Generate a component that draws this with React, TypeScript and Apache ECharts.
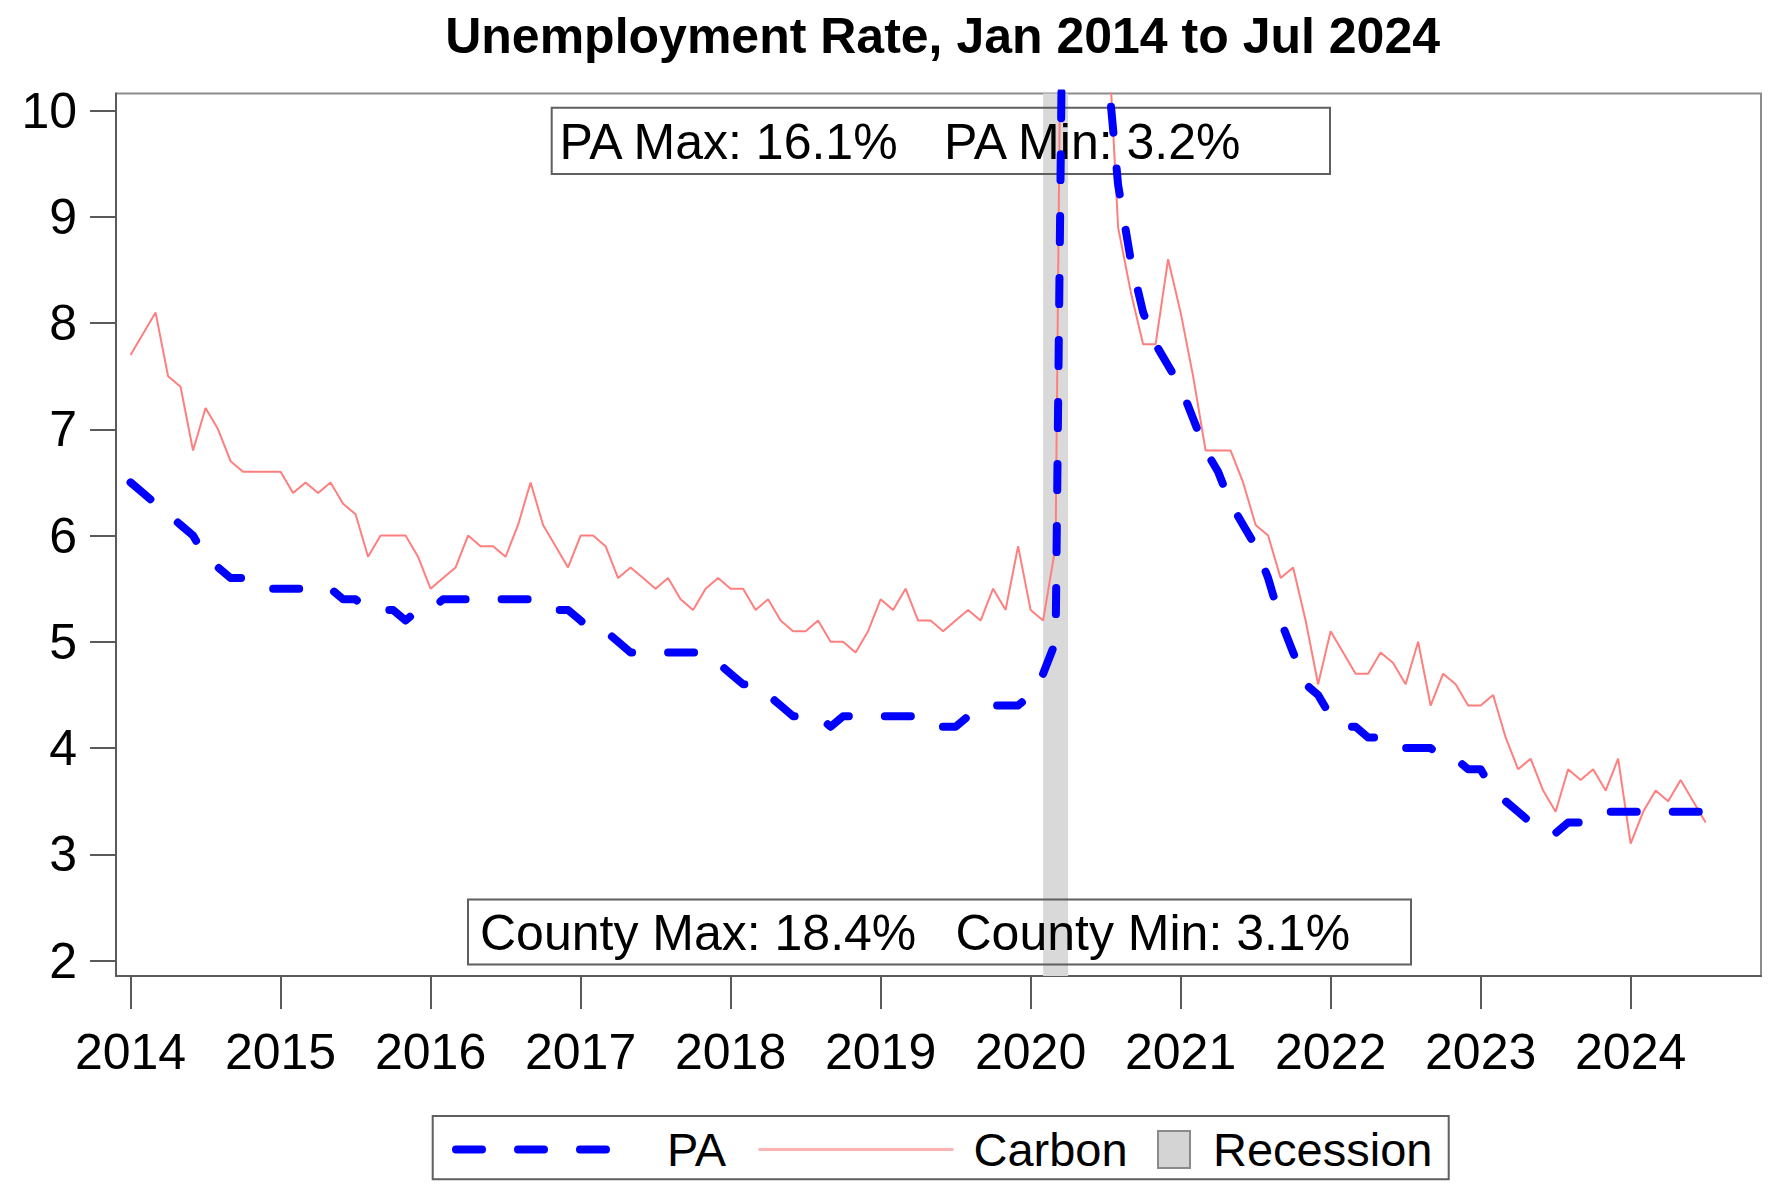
import React, { useEffect, useRef } from "react";
import * as echarts from "echarts";

// ---- data (monthly, Jan 2014 – Jul 2024) ----
const startYear = 2014;
const paRate = [
  6.5, 6.4, 6.3, 6.2, 6.1, 6.0, 5.8, 5.7, 5.6, 5.6, 5.5, 5.5,
  5.5, 5.5, 5.5, 5.5, 5.5, 5.4, 5.4, 5.3, 5.3, 5.3, 5.2, 5.3,
  5.3, 5.4, 5.4, 5.4, 5.4, 5.4, 5.4, 5.4, 5.4, 5.3, 5.3, 5.3,
  5.2, 5.1, 5.1, 5.0, 4.9, 4.9, 4.9, 4.9, 4.9, 4.9, 4.9, 4.8,
  4.7, 4.6, 4.6, 4.5, 4.4, 4.3, 4.3, 4.3, 4.2, 4.3, 4.3, 4.3,
  4.3, 4.3, 4.3, 4.3, 4.2, 4.2, 4.2, 4.3, 4.4, 4.4, 4.4, 4.4,
  4.5, 4.7, 5.0, 16.1, 13.6, 12.6, 10.6, 9.3, 8.6, 8.1, 7.8, 7.6,
  7.4, 7.1, 6.8, 6.6, 6.3, 6.1, 5.9, 5.6, 5.2, 4.9, 4.6, 4.5,
  4.3, 4.2, 4.2, 4.1, 4.1, 4.1, 4.0, 4.0, 4.0, 3.9, 3.9, 3.8,
  3.8, 3.6, 3.5, 3.4, 3.3, 3.2, 3.2, 3.3, 3.3, 3.3, 3.4, 3.4,
  3.4, 3.4, 3.4, 3.4, 3.4, 3.4, 3.4,
];
const carbonRate = [
  7.7, 7.9, 8.1, 7.5, 7.4, 6.8, 7.2, 7.0, 6.7, 6.6, 6.6, 6.6,
  6.6, 6.4, 6.5, 6.4, 6.5, 6.3, 6.2, 5.8, 6.0, 6.0, 6.0, 5.8,
  5.5, 5.6, 5.7, 6.0, 5.9, 5.9, 5.8, 6.1, 6.5, 6.1, 5.9, 5.7,
  6.0, 6.0, 5.9, 5.6, 5.7, 5.6, 5.5, 5.6, 5.4, 5.3, 5.5, 5.6,
  5.5, 5.5, 5.3, 5.4, 5.2, 5.1, 5.1, 5.2, 5.0, 5.0, 4.9, 5.1,
  5.4, 5.3, 5.5, 5.2, 5.2, 5.1, 5.2, 5.3, 5.2, 5.5, 5.3, 5.9,
  5.3, 5.2, 5.9, 18.4, 15.8, 13.5, 11.2, 8.9, 8.3, 7.8, 7.8, 8.6,
  8.1, 7.5, 6.8, 6.8, 6.8, 6.5, 6.1, 6.0, 5.6, 5.7, 5.2, 4.6,
  5.1, 4.9, 4.7, 4.7, 4.9, 4.8, 4.6, 5.0, 4.4, 4.7, 4.6, 4.4,
  4.4, 4.5, 4.1, 3.8, 3.9, 3.6, 3.4, 3.8, 3.7, 3.8, 3.6, 3.9,
  3.1, 3.4, 3.6, 3.5, 3.7, 3.5, 3.3,
];
const yearTicks = [2014, 2015, 2016, 2017, 2018, 2019, 2020, 2021, 2022, 2023, 2024];
const rateTicks = [2, 3, 4, 5, 6, 7, 8, 9, 10];
// Recession: Feb 2020 – Apr 2020
const recessionStart = { year: 2020, month: 2 };
const recessionEnd = { year: 2020, month: 4 };
const seriesNames = ["PA", "Carbon", "Recession"];
const titleText = "Unemployment Rate, Jan 2014 to Jul 2024";
const paNote = ["PA Max: 16.1%", "PA Min: 3.2%"];
const countyNote = ["County Max: 18.4%", "County Min: 3.1%"];

const monthToX = (i: number) => startYear + i / 12;
const ymToX = (ym: { year: number; month: number }) => ym.year + (ym.month - 1) / 12;

const FONT = '"Liberation Sans", Arial, Helvetica, sans-serif';
const PA_COLOR = "#0000ff";
const CARBON_COLOR = "#ff7f7f";
const PA_DASH = [26, 36];

export default function App() {
  const ref = useRef<HTMLDivElement>(null);

  useEffect(() => {
    if (!ref.current) return;
    const chart = echarts.init(ref.current, null, { renderer: "svg" });

    const paData = paRate.map((v, i) => [monthToX(i), v]);
    const carbonData = carbonRate.map((v, i) => [monthToX(i), v]);

    const boxStroke = "#5f5f5f";
    const txt = (text: string, x: number, y: number, bold = false, align = "left") => ({
      type: "text",
      x,
      y,
      z: 2,
      silent: true,
      style: {
        text,
        font: `${bold ? "bold " : ""}50px ${FONT}`,
        fill: "#000",
        textAlign: align,
        align,
        textVerticalAlign: "middle",
        verticalAlign: "middle",
      },
    });
    const box = (x: number, y: number, w: number, h: number) => ({
      type: "rect",
      z: 2,
      silent: true,
      shape: { x, y, width: w, height: h },
      style: { fill: "transparent", stroke: boxStroke, lineWidth: 2 },
    });

    const legendText = (pad: number) => ({
      fontSize: 47,
      color: "#000",
      fontFamily: FONT,
      padding: [0, 0, 0, pad],
    });

    const option: any = {
      animation: false,
      backgroundColor: "#fff",
      grid: {
        left: 116,
        right: 7,
        top: 93.5,
        bottom: 213,
        show: true,
        borderColor: "#8c8c8c",
        borderWidth: 2,
        containLabel: false,
      },
      xAxis: {
        type: "value",
        min: 2013.903,
        max: 2024.869,
        axisLine: { show: true, onZero: false, lineStyle: { color: "#5a5a5a", width: 2 } },
        axisTick: { show: true, length: 33, customValues: yearTicks, lineStyle: { color: "#5a5a5a", width: 2 } },
        axisLabel: {
          customValues: yearTicks,
          fontSize: 50,
          color: "#000",
          fontFamily: FONT,
          margin: 51,
          formatter: (v: number) => String(Math.round(v)),
        },
        splitLine: { show: false },
      },
      yAxis: {
        type: "value",
        min: 1.855,
        max: 10.16,
        axisLine: { show: true, onZero: false, lineStyle: { color: "#5a5a5a", width: 2 } },
        axisTick: { show: true, length: 26, customValues: rateTicks, lineStyle: { color: "#5a5a5a", width: 2 } },
        axisLabel: {
          customValues: rateTicks,
          fontSize: 50,
          color: "#000",
          fontFamily: FONT,
          margin: 39,
          formatter: (v: number) => String(Math.round(v)),
        },
        splitLine: { show: false },
      },
      legend: [
        {
          data: [seriesNames[0]],
          left: 452,
          top: 1126,
          padding: 0,
          itemWidth: 163,
          itemHeight: 14,
          selectedMode: false,
          itemStyle: { opacity: 0 },
          lineStyle: { color: PA_COLOR, width: 8, type: PA_DASH, cap: "round" },
          textStyle: legendText(43),
        },
        {
          data: [seriesNames[1]],
          left: 757,
          top: 1126,
          padding: 0,
          itemWidth: 195,
          itemHeight: 14,
          selectedMode: false,
          itemStyle: { opacity: 0 },
          lineStyle: { color: "#ffb4b4", width: 3 },
          textStyle: legendText(15),
        },
        {
          data: [
            {
              name: seriesNames[2],
              icon: "rect",
              itemStyle: { color: "#d4d4d4", borderColor: "#8a8a8a", borderWidth: 2 },
            },
          ],
          left: 1157,
          top: 1126,
          padding: 0,
          itemWidth: 32,
          itemHeight: 37,
          selectedMode: false,
          textStyle: legendText(18),
        },
      ],
      graphic: [
        txt(titleText, 942.6, 36, true, "center"),
        box(551.7, 107.7, 778.3, 66.3),
        txt(paNote[0], 559.5, 141.7),
        txt(paNote[1], 944, 141.7),
        box(468, 899.4, 943, 65.1),
        txt(countyNote[0], 480, 933.2),
        txt(countyNote[1], 955.5, 933.2),
        box(432.7, 1116, 1016, 63.3),
      ],
      series: [
        {
          name: seriesNames[2],
          type: "line",
          data: [],
          z: 1,
          symbol: "none",
          itemStyle: { color: "#d4d4d4" },
          markArea: {
            silent: true,
            z: 1,
            itemStyle: { color: "#d9d9d9" },
            data: [[{ xAxis: ymToX(recessionStart) }, { xAxis: ymToX(recessionEnd) }]],
          },
        },
        {
          name: seriesNames[1],
          type: "line",
          data: carbonData,
          z: 3,
          symbol: "none",
          showSymbol: false,
          clip: true,
          itemStyle: { color: CARBON_COLOR },
          lineStyle: { color: CARBON_COLOR, width: 2 },
        },
        {
          name: seriesNames[0],
          type: "line",
          data: paData,
          z: 4,
          symbol: "none",
          showSymbol: false,
          clip: true,
          itemStyle: { color: PA_COLOR },
          lineStyle: { color: PA_COLOR, width: 8, type: PA_DASH, cap: "round", join: "round" },
        },
      ],
    };

    chart.setOption(option);
    return () => chart.dispose();
  }, []);

  return (
    <div
      ref={ref}
      style={{ position: "fixed", left: 0, top: 0, width: 1768, height: 1189, background: "#fff" }}
    />
  );
}
